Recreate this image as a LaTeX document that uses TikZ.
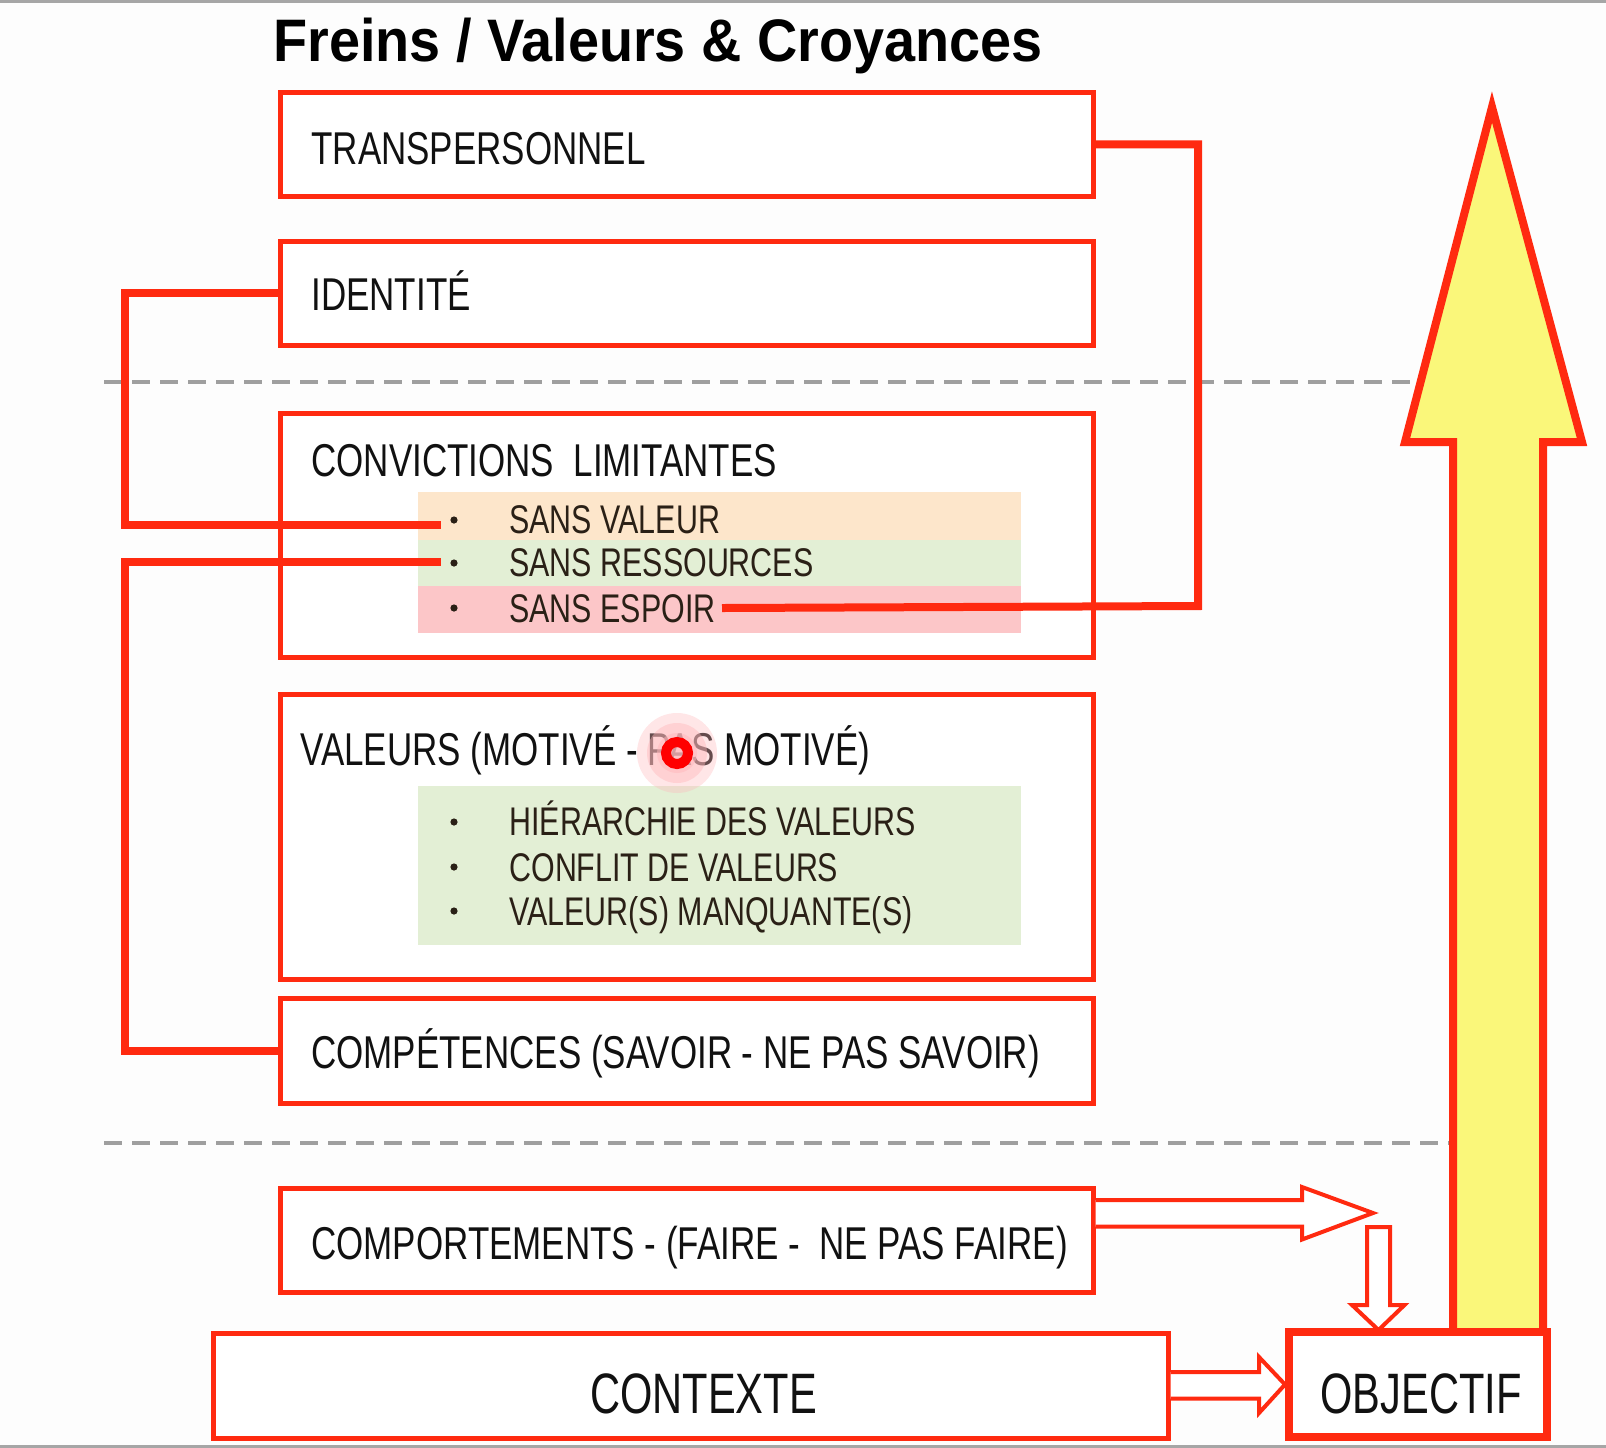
\documentclass[tikz,border=0pt]{standalone}
\usepackage{fontspec}
\setmainfont[FakeStretch=0.76]{Liberation Sans}
\newfontfamily\titlefont[FakeStretch=0.93]{Liberation Sans}
\newfontfamily\bigfont[FakeStretch=0.73]{Liberation Sans}
\usetikzlibrary{fit,calc,fadings}
\tikzfading[name=myglow, inner color=transparent!0, outer color=transparent!100]
\definecolor{rd}{HTML}{FF2A10}
\definecolor{txt}{HTML}{111111}
\definecolor{txtd}{HTML}{2A2016}
\definecolor{bandO}{HTML}{FDE6CB}
\definecolor{bandG}{HTML}{E3EFD5}
\definecolor{bandP}{HTML}{FCC6C8}
\definecolor{yel}{HTML}{FAF77A}
\definecolor{bg}{HTML}{FDFDFD}
\definecolor{glow}{HTML}{FFB8BC}
\begin{document}
\begin{tikzpicture}[x=0.5pt,y=-0.5pt,
  box/.style={draw=rd, line width=2.5pt, inner sep=0pt, fill=white},
  band/.style={inner sep=0pt, draw=none},
  lbl/.style={anchor=base west, inner sep=0pt, text=txt, font=\fontsize{23}{27}\selectfont},
  item/.style={anchor=base west, inner sep=0pt, text=txtd, font=\fontsize{20}{24}\selectfont},
  bul/.style={circle, fill=txtd, inner sep=0pt, minimum size=3.6pt},
  conn/.style={draw=rd, line width=4pt},
  hollow/.style={draw=rd, line width=2pt, fill=white, line join=miter},
  sep/.style={draw=gray!75, line width=2pt, dash pattern=on 9pt off 5pt}]
\useasboundingbox (0,0) rectangle (1606,1447);
\fill[bg] (0,0) rectangle (1606,1447);
\draw[gray!70, line width=1.5pt] (0,1) -- (1606,1);
\draw[gray!70, line width=1.5pt] (0,1446) -- (1606,1446);

% title
\node[anchor=base west, inner sep=0pt, font=\titlefont\bfseries\fontsize{30}{36}\selectfont] (title) at (273,61.5) {Freins / Valeurs \& Croyances};

% separators
\coordinate (d1a) at (104,382); \coordinate (d1b) at (1425,382);
\coordinate (d2a) at (104,1143); \coordinate (d2b) at (1452,1143);
\draw[sep] (d1a) -- (d1b);
\draw[sep] (d2a) -- (d2b);

% big arrow
\draw[rd, fill=yel, line width=4pt, line join=miter]
  (1453,1336) -- (1453,442) -- (1405,442) -- (1492,107) -- (1582,442) -- (1543,442) -- (1543,1336) -- cycle;

% boxes
\node[box, fit={(280,92) (1093,196.5)}] (trans) {};
\node[box, fit={(280,241) (1093,345)}] (ident) {};
\node[box, fit={(280,413) (1093,657.5)}] (conv) {};
\node[box, fit={(280,694.5) (1093,979)}] (val) {};
\node[box, fit={(280,998.5) (1093,1103)}] (compet) {};
\node[box, fit={(280,1188) (1093,1292.5)}] (comport) {};
\node[box, fit={(213,1333.5) (1168,1438)}] (ctx) {};

% bands
\node[band, fill=bandO, fit={(418,491.5) (1021,540)}] (bO) {};
\node[band, fill=bandG, fit={(418,540) (1021,586)}] (bG) {};
\node[band, fill=bandP, fit={(418,586) (1021,633)}] (bP) {};
\node[band, fill=bandG, fit={(418,785.5) (1021,944.5)}] (bV) {};

% labels
\node[lbl] (ltrans) at (311,164) {TRANSPERSONNEL};
\node[lbl] (lident) at (311,310.5) {IDENTITÉ};
\node[lbl] (lconv) at (311,476) {CONVICTIONS\ \ LIMITANTES};
\node[lbl] (lval) at (300,765) {VALEURS (MOTIVÉ - PAS MOTIVÉ)};
\node[lbl] (lcompet) at (311,1068) {COMPÉTENCES (SAVOIR - NE PAS SAVOIR)};
\node[lbl] (lcomport) at (311,1259) {COMPORTEMENTS - (FAIRE -\ \ NE PAS FAIRE)};
\node[anchor=base, inner sep=0pt, text=txt, font=\bigfont\fontsize{28.5}{32}\selectfont] (lctx) at (703.5,1413.5) {CONTEXTE};

% items
\node[bul] (b1) at (454,520) {};
\node[item] (sv) at (509,533.5) {SANS VALEUR};
\node[bul] (b2) at (454,563) {};
\node[item] (sr) at (509,576.5) {SANS RESSOURCES};
\node[bul] (b3) at (454,608) {};
\node[item] (se) at (509,622.5) {SANS ESPOIR};
\node[bul] (b4) at (454,822) {};
\node[item] (h1) at (509,835.5) {HIÉRARCHIE DES VALEURS};
\node[bul] (b5) at (454,867) {};
\node[item] (h2) at (509,881) {CONFLIT DE VALEURS};
\node[bul] (b6) at (454,911) {};
\node[item] (h3) at (509,925) {VALEUR(S) MANQUANTE(S)};

% connectors
\coordinate (cL1) at (125,525);
\coordinate (cL2) at (125,562);
\coordinate (cR) at (1198,606);
\coordinate (eSV) at (441,525);
\coordinate (eSR) at (441,562);
\coordinate (sSE) at (722,608);
\draw[conn] (ident.west) -| (cL1) -- (eSV);
\draw[conn] (compet.west) -| (cL2) -- (eSR);
\draw[conn] (sSE) -- (cR) |- (trans.east);

% objectif
\node[draw=rd, line width=4pt, fill=white, inner sep=0pt, fit={(1289,1332) (1546.5,1437)}] (obj) {};
\node[anchor=base, inner sep=0pt, text=txt, font=\bigfont\fontsize{28.5}{32}\selectfont] (lobj) at (1421,1413.5) {OBJECTIF};

% hollow arrows
\draw[hollow] (comport.east |- 0,1200) -- (1302,1200) -- (1302,1187) -- (1373,1213) -- (1302,1239.5) -- (1302,1226.5) -- (comport.east |- 0,1226.5);
\draw[hollow] (1367,1227) -- (1390,1227) -- (1390,1305) -- (1404.5,1305) -- (1378.5,1330) -- (1352,1305) -- (1367,1305) -- cycle;
\draw[hollow] (ctx.east |- 0,1372) -- (1259,1372) -- (1259,1357) -- (obj.west) -- (1259,1413) -- (1259,1398.5) -- (ctx.east |- 0,1398.5);

% cursor highlight
\coordinate (cur) at (677,753);
\fill[glow, fill opacity=0.35] (cur) circle[radius=20pt];
\fill[glow, fill opacity=0.45] (cur) circle[radius=15pt];
\fill[glow, fill opacity=0.5] (cur) circle[radius=10pt];
\draw[red, line width=5pt] (cur) circle[radius=5.5pt];
\end{tikzpicture}
\end{document}
